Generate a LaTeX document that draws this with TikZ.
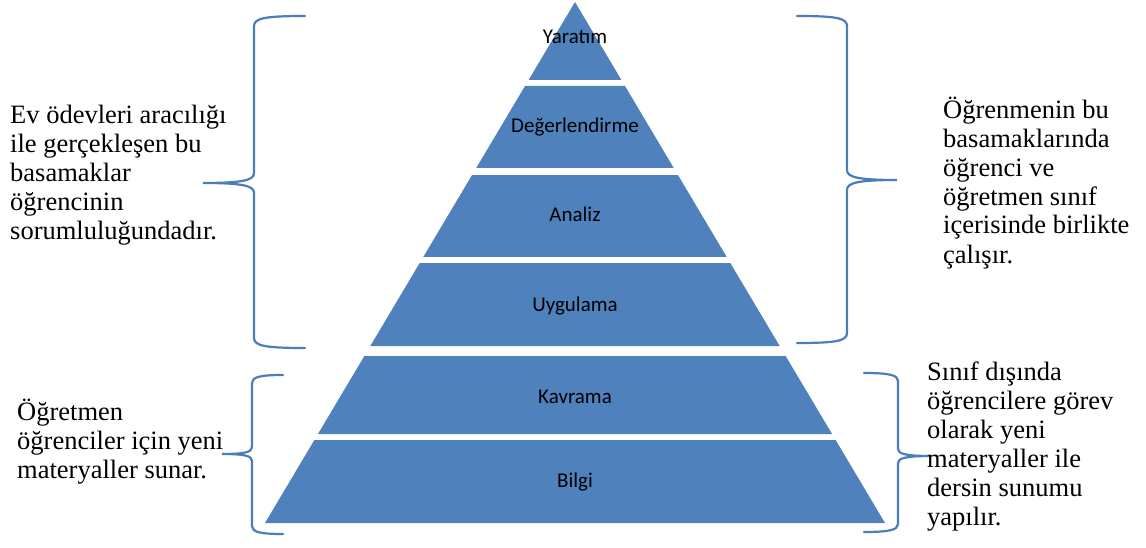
\documentclass[tikz,border=0pt]{standalone}
\usepackage{fontspec}
\setmainfont{Carlito}
\newfontfamily\timesfont{Liberation Serif}
\usetikzlibrary{calc}
\definecolor{pyrblue}{RGB}{79,129,189}
\definecolor{brcblue}{RGB}{74,126,187}

\begin{document}
\begin{tikzpicture}[
    x=1pt, y=-1pt,
    layer/.style={fill=pyrblue},
    lvllbl/.style={anchor=base, inner sep=0pt, font=\fontsize{21}{25}\selectfont},
    sidetxt/.style={anchor=base west, align=left, inner sep=0pt,
        font=\timesfont\fontsize{26.5}{29}\selectfont},
    brc/.style={draw=brcblue, line width=2.2pt, line cap=round},
]
\useasboundingbox (0,0) rectangle (1146,548);

% ================================================================
%  PYRAMID
% ================================================================
\coordinate (apex) at (575,2);
\coordinate (bl)   at (265,523);
\coordinate (br)   at (885,523);

\fill[layer] (apex) -- ($(apex)!0.1497!(br)$) -- ($(apex)!0.1497!(bl)$) -- cycle;
\fill[layer] ($(apex)!0.1612!(bl)$) -- ($(apex)!0.1612!(br)$)
    -- ($(apex)!0.3186!(br)$) -- ($(apex)!0.3186!(bl)$) -- cycle;
\fill[layer] ($(apex)!0.3321!(bl)$) -- ($(apex)!0.3321!(br)$)
    -- ($(apex)!0.4894!(br)$) -- ($(apex)!0.4894!(bl)$) -- cycle;
\fill[layer] ($(apex)!0.5010!(bl)$) -- ($(apex)!0.5010!(br)$)
    -- ($(apex)!0.6603!(br)$) -- ($(apex)!0.6603!(bl)$) -- cycle;
\fill[layer] ($(apex)!0.6795!(bl)$) -- ($(apex)!0.6795!(br)$)
    -- ($(apex)!0.8292!(br)$) -- ($(apex)!0.8292!(bl)$) -- cycle;
\fill[layer] ($(apex)!0.8407!(bl)$) -- ($(apex)!0.8407!(br)$)
    -- (br) -- (bl) -- cycle;

\node[lvllbl] (yaratim) at (575,44)  {Yaratım};
\node[lvllbl] (degerl)  at (575,133) {Değerlendirme};
\node[lvllbl] (analiz)  at (575,222) {Analiz};
\node[lvllbl] (uygul)   at (575,311) {Uygulama};
\node[lvllbl] (kavrama) at (575,403) {Kavrama};
\node[lvllbl] (bilgi)   at (575,487) {Bilgi};

% ================================================================
%  BRACES
% ================================================================
% upper left
\draw[brc] (305,16) .. controls (266,16) and (254,18) .. (254,26)
    -- (254,173) .. controls (254,180) and (244,183) .. (203,183)
    .. controls (244,183) and (254,186) .. (254,193)
    -- (254,338) .. controls (254,346) and (266,348) .. (305,348);
% upper right
\draw[brc] (797,16) .. controls (836,16) and (847,18) .. (847,26)
    -- (847,170) .. controls (847,177) and (857,180) .. (897,180)
    .. controls (857,180) and (847,183) .. (847,190)
    -- (847,333) .. controls (847,341) and (836,343) .. (797,343);
% lower left
\draw[brc] (283,375) .. controls (260,375) and (252,377) .. (252,383)
    -- (252,447) .. controls (252,452) and (245,454) .. (222,454)
    .. controls (245,454) and (252,456) .. (252,461)
    -- (252,526) .. controls (252,532) and (260,534) .. (283,534);
% lower right
\draw[brc] (864,373) .. controls (889,373) and (898,375) .. (898,381)
    -- (898,449) .. controls (898,454) and (906,456) .. (932,456)
    .. controls (906,456) and (898,458) .. (898,463)
    -- (898,524) .. controls (898,530) and (889,532) .. (864,532);

% ================================================================
%  SIDE TEXTS (placed at the baseline of the last line)
% ================================================================
\node[sidetxt] (evodev) at (10,240)
    {Ev ödevleri aracılığı\\ile gerçekleşen bu\\basamaklar\\öğrencinin\\sorumluluğundadır.};
\node[sidetxt] (ogretmen) at (17,478)
    {Öğretmen\\öğrenciler için yeni\\materyaller sunar.};
\node[sidetxt] (birlikte) at (943,263)
    {Öğrenmenin bu\\basamaklarında\\öğrenci ve\\öğretmen sınıf\\içerisinde birlikte\\çalışır.};
\node[sidetxt] (disinda) at (927,525)
    {Sınıf dışında\\öğrencilere görev\\olarak yeni\\materyaller ile\\dersin sunumu\\yapılır.};

\end{tikzpicture}
\end{document}
